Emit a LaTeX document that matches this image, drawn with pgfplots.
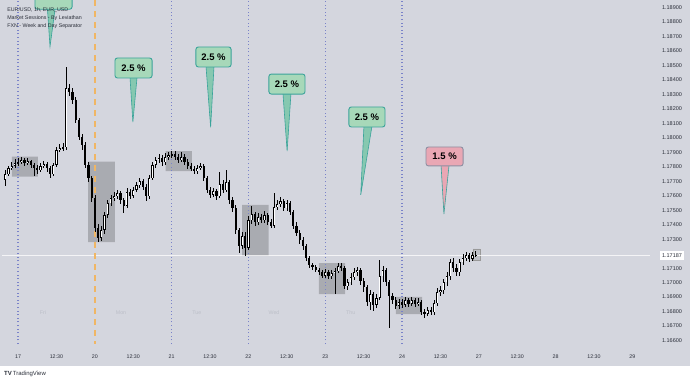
\documentclass[border=0pt]{standalone}
\usepackage{pgfplots}
\pgfplotsset{compat=1.18}
\usepackage{pgfplotstable}
\usepackage{fontspec}
\setmainfont{Liberation Sans}
\definecolor{bg}{HTML}{D4D6DE}
\definecolor{sep}{HTML}{7A83C9}
\definecolor{wk}{HTML}{F0B664}
\definecolor{cgreen}{HTML}{A7D8B9}
\definecolor{cteal}{HTML}{3AA39A}
\definecolor{cpink}{HTML}{E9A7B4}
\definecolor{cpinkb}{HTML}{8E8FA2}
\definecolor{txt}{HTML}{2A2E39}
\definecolor{faint}{HTML}{BCBFC8}

\pgfplotstableread{
h o hi lo c
-4 1.17708 1.17777 1.17667 1.17749
-3 1.17749 1.17805 1.17736 1.17791
-2 1.17791 1.17832 1.17777 1.17805
-1 1.17805 1.17853 1.17791 1.17825
0 1.17825 1.17860 1.17805 1.17832
1 1.17832 1.17867 1.17818 1.17846
2 1.17846 1.17860 1.17805 1.17825
3 1.17825 1.17860 1.17812 1.17839
4 1.17839 1.17846 1.17791 1.17812
5 1.17812 1.17825 1.17736 1.17791
6 1.17791 1.17812 1.17749 1.17777
7 1.17777 1.17825 1.17763 1.17805
8 1.17805 1.17839 1.17791 1.17818
9 1.17818 1.17832 1.17763 1.17791
10 1.17791 1.17805 1.17722 1.17749
11 1.17749 1.17825 1.17736 1.17812
12 1.17812 1.17936 1.17798 1.17915
13 1.17915 1.17956 1.17901 1.17929
14 1.17929 1.17963 1.17908 1.17936
15 1.17936 1.18488 1.17915 1.18343
16 1.18343 1.18370 1.18288 1.18315
17 1.18315 1.18343 1.18232 1.18260
18 1.18260 1.18281 1.18101 1.18122
19 1.18122 1.18136 1.17984 1.18005
20 1.18005 1.18025 1.17915 1.17950
21 1.17950 1.17970 1.17791 1.17812
22 1.17812 1.17832 1.17694 1.17722
23 1.17722 1.17736 1.17556 1.17584
24 1.17584 1.17605 1.17349 1.17377
25 1.17377 1.17404 1.17280 1.17308
26 1.17308 1.17391 1.17287 1.17363
27 1.17363 1.17487 1.17335 1.17467
28 1.17467 1.17570 1.17446 1.17549
29 1.17549 1.17605 1.17529 1.17584
30 1.17584 1.17625 1.17563 1.17598
31 1.17598 1.17639 1.17577 1.17618
32 1.17618 1.17632 1.17542 1.17570
33 1.17570 1.17584 1.17480 1.17529
34 1.17529 1.17653 1.17515 1.17625
35 1.17625 1.17646 1.17577 1.17598
36 1.17598 1.17660 1.17584 1.17639
37 1.17639 1.17694 1.17625 1.17674
38 1.17674 1.17722 1.17653 1.17701
39 1.17701 1.17715 1.17639 1.17660
40 1.17660 1.17680 1.17563 1.17598
41 1.17598 1.17743 1.17577 1.17722
42 1.17722 1.17832 1.17708 1.17812
43 1.17812 1.17867 1.17791 1.17846
44 1.17846 1.17887 1.17825 1.17860
45 1.17860 1.17881 1.17805 1.17832
46 1.17832 1.17894 1.17812 1.17867
47 1.17867 1.17901 1.17846 1.17881
48 1.17881 1.17908 1.17860 1.17887
49 1.17887 1.17908 1.17846 1.17867
50 1.17867 1.17887 1.17825 1.17846
51 1.17846 1.17901 1.17832 1.17867
52 1.17867 1.17887 1.17812 1.17832
53 1.17832 1.17853 1.17784 1.17805
54 1.17805 1.17825 1.17770 1.17784
55 1.17784 1.17805 1.17749 1.17770
56 1.17770 1.17812 1.17749 1.17791
57 1.17791 1.17825 1.17777 1.17805
58 1.17805 1.17818 1.17701 1.17722
59 1.17722 1.17736 1.17618 1.17639
60 1.17639 1.17660 1.17584 1.17605
61 1.17605 1.17653 1.17591 1.17632
62 1.17632 1.17646 1.17570 1.17598
63 1.17598 1.17763 1.17584 1.17680
64 1.17680 1.17708 1.17618 1.17639
65 1.17639 1.17777 1.17625 1.17694
66 1.17694 1.17708 1.17542 1.17570
67 1.17570 1.17591 1.17487 1.17515
68 1.17515 1.17536 1.17335 1.17363
69 1.17363 1.17377 1.17204 1.17253
70 1.17253 1.17349 1.17232 1.17322
71 1.17322 1.17349 1.17184 1.17239
72 1.17239 1.17460 1.17225 1.17432
73 1.17432 1.17529 1.17404 1.17473
74 1.17473 1.17487 1.17391 1.17418
75 1.17418 1.17480 1.17398 1.17453
76 1.17453 1.17473 1.17411 1.17432
77 1.17432 1.17494 1.17411 1.17467
78 1.17467 1.17480 1.17398 1.17418
79 1.17418 1.17439 1.17377 1.17391
80 1.17391 1.17618 1.17377 1.17522
81 1.17522 1.17570 1.17501 1.17542
82 1.17542 1.17591 1.17522 1.17563
83 1.17563 1.17577 1.17494 1.17515
84 1.17515 1.17570 1.17494 1.17549
85 1.17549 1.17563 1.17467 1.17487
86 1.17487 1.17501 1.17370 1.17391
87 1.17391 1.17418 1.17322 1.17342
88 1.17342 1.17363 1.17266 1.17294
89 1.17294 1.17315 1.17225 1.17253
90 1.17253 1.17266 1.17149 1.17170
91 1.17170 1.17184 1.17101 1.17122
92 1.17122 1.17135 1.17087 1.17108
93 1.17108 1.17122 1.17073 1.17087
94 1.17087 1.17101 1.17053 1.17073
95 1.17073 1.17087 1.17032 1.17046
96 1.17046 1.17094 1.17032 1.17073
97 1.17073 1.17087 1.17025 1.17046
98 1.17046 1.17087 1.17025 1.17066
99 1.17066 1.17101 1.16921 1.17080
100 1.17080 1.17135 1.17066 1.17115
101 1.17115 1.17135 1.17080 1.17101
102 1.17101 1.17115 1.16956 1.16977
103 1.16977 1.17025 1.16949 1.17004
104 1.17004 1.17066 1.16984 1.17039
105 1.17039 1.17101 1.17018 1.17073
106 1.17073 1.17108 1.17046 1.17087
107 1.17087 1.17101 1.16984 1.17011
108 1.17011 1.17032 1.16935 1.16970
109 1.16970 1.16984 1.16839 1.16866
110 1.16866 1.16949 1.16811 1.16921
111 1.16921 1.16935 1.16804 1.16846
112 1.16846 1.16921 1.16825 1.16894
113 1.16894 1.17156 1.16880 1.17046
114 1.17046 1.17115 1.17004 1.17087
115 1.17087 1.17101 1.16977 1.17004
116 1.17004 1.17018 1.16687 1.16908
117 1.16908 1.16928 1.16852 1.16880
118 1.16880 1.16901 1.16818 1.16839
119 1.16839 1.16887 1.16818 1.16866
120 1.16866 1.16887 1.16825 1.16846
121 1.16846 1.16901 1.16832 1.16880
122 1.16880 1.16894 1.16832 1.16852
123 1.16852 1.16901 1.16839 1.16880
124 1.16880 1.16894 1.16832 1.16852
125 1.16852 1.16894 1.16839 1.16866
126 1.16866 1.16880 1.16777 1.16797
127 1.16797 1.16818 1.16756 1.16783
128 1.16783 1.16832 1.16770 1.16811
129 1.16811 1.16832 1.16777 1.16797
130 1.16797 1.16880 1.16777 1.16859
131 1.16859 1.16963 1.16839 1.16935
132 1.16935 1.16977 1.16908 1.16949
133 1.16949 1.17025 1.16921 1.17004
134 1.17004 1.17073 1.16977 1.17046
135 1.17046 1.17163 1.17018 1.17142
136 1.17142 1.17170 1.17073 1.17101
137 1.17101 1.17128 1.17046 1.17073
138 1.17073 1.17163 1.17046 1.17142
139 1.17142 1.17197 1.17122 1.17170
140 1.17170 1.17211 1.17149 1.17191
141 1.17191 1.17204 1.17142 1.17163
142 1.17163 1.17211 1.17149 1.17191
143 1.17191 1.17218 1.17177 1.17187
}\candles

\begin{document}
\begin{tikzpicture}[x=1pt,y=1pt]
\useasboundingbox (0,0) rectangle (690,381);
\fill[bg] (0,15) rectangle (690,381);
\begin{axis}[
  at={(2pt,37pt)}, anchor=south west, scale only axis,
  width=648pt, height=344pt,
  xmin=-5, xmax=197.5, ymin=1.165764, ymax=1.1895,
  axis line style={draw=none}, major tick length=0pt,
  scaled y ticks=false,
  xtick={0,12,...,192},
  xticklabels={17,12:30,20,12:30,21,12:30,22,12:30,23,12:30,24,12:30,27,12:30,28,12:30,29},
  xticklabel style={anchor=center, yshift=-13pt, font=\fontsize{5.3}{6}\selectfont, text=txt},
  ytick={1.166,1.167,1.168,1.169,1.170,1.171,1.173,1.174,1.175,1.176,1.177,1.178,1.179,1.180,1.181,1.182,1.183,1.184,1.185,1.186,1.187,1.188,1.189},
  yticklabel pos=right,
  yticklabel={\pgfmathprintnumber[fixed,fixed zerofill,precision=5,assume math mode=true]{\tick}},
  yticklabel style={anchor=center, xshift=22pt, font=\fontsize{5.5}{6}\selectfont, text=txt},
  extra y ticks={1.17187},
  extra y tick style={yticklabel style={fill=white, text height=4pt, text depth=0pt, inner xsep=2pt, inner ysep=2.5pt}},
  candle/.style={only marks, mark=text, text mark={}, mark options={opacity=0}, forget plot,
    error bars/y dir=both, error bars/y explicit, error bars/error mark=none},
]
% session boxes
\addplot[draw=none, fill=black, fill opacity=0.2] coordinates {(-1.9,1.17731) (6.2,1.17731) (6.2,1.17869) (-1.9,1.17869) (-1.9,1.17731)};
\addplot[draw=none, fill=black, fill opacity=0.2] coordinates {(21.9,1.17280) (30.3,1.17280) (30.3,1.17834) (21.9,1.17834) (21.9,1.17280)};
\addplot[draw=none, fill=black, fill opacity=0.2] coordinates {(46.1,1.17770) (54.3,1.17770) (54.3,1.17908) (46.1,1.17908) (46.1,1.17770)};
\addplot[draw=none, fill=black, fill opacity=0.2] coordinates {(70.0,1.17184) (78.3,1.17184) (78.3,1.17536) (70.0,1.17536) (70.0,1.17184)};
\addplot[draw=none, fill=black, fill opacity=0.2] coordinates {(94.0,1.16921) (102.2,1.16921) (102.2,1.17135) (94.0,1.17135) (94.0,1.16921)};
\addplot[draw=none, fill=black, fill opacity=0.2] coordinates {(118.1,1.16783) (126.3,1.16783) (126.3,1.16901) (118.1,1.16901) (118.1,1.16783)};
\addplot[draw=black!40, line width=0.3pt, fill=black, fill opacity=0.1] coordinates {(142.2,1.17156) (144.4,1.17156) (144.4,1.17232) (142.2,1.17232) (142.2,1.17156)};
% current price line
\addplot[white, opacity=0.75, line width=0.5pt] coordinates {(-5,1.17187) (197.5,1.17187)};
% separators
\addplot[sep, line width=1.1pt, dash pattern=on 1pt off 2.6pt] coordinates {(0,1.165764) (0,1.1895)};
\addplot[sep, line width=1.1pt, dash pattern=on 1pt off 2.6pt] coordinates {(48,1.165764) (48,1.1895)};
\addplot[sep, line width=1.1pt, dash pattern=on 1pt off 2.6pt] coordinates {(72,1.165764) (72,1.1895)};
\addplot[sep, line width=1.1pt, dash pattern=on 1pt off 2.6pt] coordinates {(96,1.165764) (96,1.1895)};
\addplot[sep, line width=1.1pt, dash pattern=on 1pt off 2.6pt] coordinates {(120,1.165764) (120,1.1895)};
\addplot[wk, line width=1.5pt, dash pattern=on 6pt off 5pt] coordinates {(24,1.1895) (24,1.165764)};
% wicks
\addplot[candle, error bars/error bar style={draw=black, line width=0.6pt}]
  table[x=h, y expr={(\thisrow{hi}+\thisrow{lo})/2}, y error expr={(\thisrow{hi}-\thisrow{lo})/2}] {\candles};
% bodies
\addplot[candle, error bars/error bar style={draw=black, line width=2.2pt}]
  table[x=h, y expr={(\thisrow{o}+\thisrow{c})/2}, y error expr={max(abs(\thisrow{c}-\thisrow{o})/2,0.00003)}] {\candles};
\addplot[candle, error bars/error bar style={draw=white, line width=1.0pt}]
  table[x=h, y expr={(\thisrow{o}+\thisrow{c})/2}, y error expr={max((\thisrow{c}-\thisrow{o})/2-0.00004,0)}] {\candles};
% callouts: pointers
\addplot[fill=cgreen!70!cteal, draw=cteal, line width=0.6pt] coordinates {(9.2,1.18890) (10,1.18628) (11.6,1.18890) (9.2,1.18890)};
\addplot[fill=cgreen!70!cteal, draw=cteal, line width=0.6pt] coordinates {(35,1.18416) (35.9,1.18108) (37.2,1.18416) (35,1.18416)};
\addplot[fill=cgreen!70!cteal, draw=cteal, line width=0.6pt] coordinates {(58.75,1.18492) (60.2,1.18072) (61.25,1.18492) (58.75,1.18492)};
\addplot[fill=cgreen!70!cteal, draw=cteal, line width=0.6pt] coordinates {(82.8,1.18305) (84.1,1.17908) (85.3,1.18305) (82.8,1.18305)};
\addplot[fill=cgreen!70!cteal, draw=cteal, line width=0.6pt] coordinates {(108.1,1.18078) (107.1,1.17605) (110.6,1.18078) (108.1,1.18078)};
\addplot[fill=cpink, draw=cteal, line width=0.6pt] coordinates {(132.2,1.17809) (133.1,1.17473) (134.7,1.17809) (132.2,1.17809)};
% callouts: boxes
\addplot[fill=cgreen, draw=cteal, line width=0.9pt, rounded corners=2.5pt] coordinates {(11.1,1.18886) (16.9,1.18886) (16.9,1.19026) (5.3,1.19026) (5.3,1.18886) (11.1,1.18886)};
\addplot[fill=cgreen, draw=cteal, line width=0.9pt, rounded corners=2.5pt] coordinates {(36.1,1.18412) (41.9,1.18412) (41.9,1.18550) (30.3,1.18550) (30.3,1.18412) (36.1,1.18412)};
\addplot[fill=cgreen, draw=cteal, line width=0.9pt, rounded corners=2.5pt] coordinates {(61.1,1.18488) (66.6,1.18488) (66.6,1.18626) (55.6,1.18626) (55.6,1.18488) (61.1,1.18488)};
\addplot[fill=cgreen, draw=cteal, line width=0.9pt, rounded corners=2.5pt] coordinates {(84.05,1.18301) (89.7,1.18301) (89.7,1.18439) (78.4,1.18439) (78.4,1.18301) (84.05,1.18301)};
\addplot[fill=cgreen, draw=cteal, line width=0.9pt, rounded corners=2.5pt] coordinates {(109.05,1.18074) (114.7,1.18074) (114.7,1.18212) (103.4,1.18212) (103.4,1.18074) (109.05,1.18074)};
\addplot[fill=cpink, draw=cpinkb, line width=0.9pt, rounded corners=2.5pt] coordinates {(133.3,1.17805) (139.1,1.17805) (139.1,1.17936) (127.5,1.17936) (127.5,1.17805) (133.3,1.17805)};
\begin{scope}[every node/.style={font=\bfseries\fontsize{9.5}{11}\selectfont, text=black, inner sep=0pt}]
\node at (axis cs:36.1,1.18481) {2.5 \%};
\node at (axis cs:61.1,1.18557) {2.5 \%};
\node at (axis cs:84.05,1.18370) {2.5 \%};
\node at (axis cs:109.05,1.18143) {2.5 \%};
\node at (axis cs:133.3,1.17870) {1.5 \%};
\end{scope}
% legend text
\begin{scope}[every node/.style={font=\fontsize{5.3}{6}\selectfont, text=txt, anchor=west, inner sep=0pt}]
\node at (axis cs:-3.4,1.18881) {EUR/USD, 1h, EUR\_USD};
\node at (axis cs:-3.4,1.18826) {Market Sessions - By Leviathan};
\node at (axis cs:-3.4,1.18771) {FXN - Week and Day Separator};
\end{scope}
% session day labels
\begin{scope}[every node/.style={font=\fontsize{5.3}{6}\selectfont, text=faint, inner sep=0pt}]
\node at (axis cs:7.8,1.16790) {Fri};
\node at (axis cs:32.2,1.16790) {Mon};
\node at (axis cs:55.9,1.16790) {Tue};
\node at (axis cs:80,1.16790) {Wed};
\node at (axis cs:104,1.16790) {Thu};
\end{scope}
\end{axis}
\node[anchor=west, font=\fontsize{6}{7}\selectfont, text=txt, inner sep=0pt] at (4,7) {\textbf{TV}\,TradingView};
\end{tikzpicture}
\end{document}
